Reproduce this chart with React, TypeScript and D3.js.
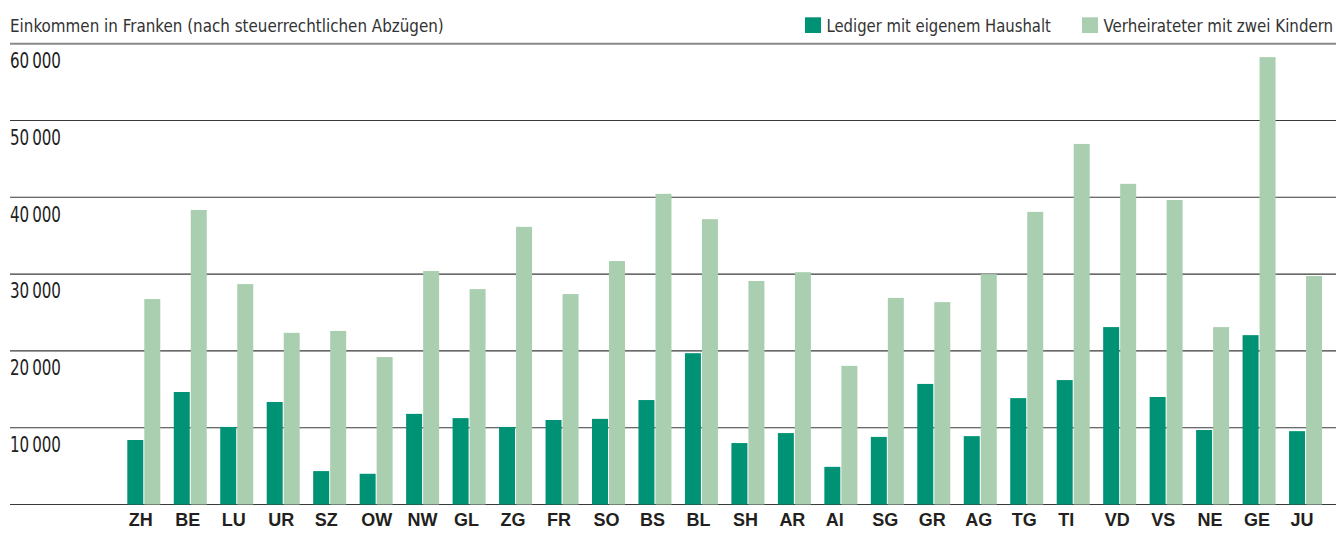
import React, { useEffect, useRef } from 'react';
import * as d3 from 'd3';

const cantons = ['ZH', 'BE', 'LU', 'UR', 'SZ', 'OW', 'NW', 'GL', 'ZG', 'FR', 'SO', 'BS', 'BL', 'SH', 'AR', 'AI', 'SG', 'GR', 'AG', 'TG', 'TI', 'VD', 'VS', 'NE', 'GE', 'JU'];
// Lediger mit eigenem Haushalt
const ledig = [8400, 14650, 10100, 13350, 4350, 4000, 11800, 11250, 10100, 11000, 11150, 13600, 19700, 8000, 9300, 4900, 8800, 15700, 8900, 13850, 16200, 23100, 14000, 9700, 22050, 9550];
// Verheirateter mit zwei Kindern
const verheiratet = [26750, 38350, 28700, 22350, 22600, 19200, 30400, 28050, 36150, 27400, 31700, 40450, 37150, 29100, 30250, 18050, 26900, 26350, 30000, 38100, 46950, 41750, 39650, 23100, 58250, 29750];
const seriesNames = ['Lediger mit eigenem Haushalt', 'Verheirateter mit zwei Kindern'];
const seriesColors = ['#009274', '#aacfb0'];
const yTicks = [0, 10000, 20000, 30000, 40000, 50000, 60000];

const FONT = '"DejaVu Sans Condensed", "Liberation Sans", sans-serif';

// schmale Schrift nachbilden: Text horizontal auf Zielbreite stauchen
const squeeze = (sel: any, x: number, y: number, target: number) => {
  sel.each(function (this: SVGTextElement) {
    const natural = this.getComputedTextLength();
    const sx = natural > 0 ? Math.min(1, target / natural) : 1;
    d3.select(this).attr('transform', `translate(${x},${y}) scale(${sx},1)`);
  });
};

const App = () => {
  const ref = useRef<SVGSVGElement>(null);

  useEffect(() => {
    document.body.style.margin = '0';
    const width = 1336;
    const height = 536;

    const svg = d3.select(ref.current);
    svg.selectAll('*').remove();
    svg.attr('width', width).attr('height', height);

    const y = d3.scaleLinear().domain([0, 60000]).range([504.5, 43.7]);

    const step = 46.47;
    const x0 = d3.scaleBand<string>()
      .domain(cantons)
      .range([127.3 - 0.145 * step, 127.3 - 0.145 * step + cantons.length * step])
      .paddingInner(0.29)
      .paddingOuter(0.145);

    const x1 = d3.scaleBand<number>()
      .domain([0, 1])
      .range([0, x0.bandwidth()])
      .paddingInner(0.06);

    const fmt = d3.formatLocale({ decimal: '.', thousands: '\u2009', grouping: [3], currency: ['', ''] }).format(',');

    // Titel
    const title = svg.append('text')
      .attr('font-family', FONT)
      .attr('font-size', 18)
      .attr('fill', '#333')
      .text('Einkommen in Franken (nach steuerrechtlichen Abzügen)');
    squeeze(title, 10, 32, 434);

    // Legende
    const legendX = [805, 1082];
    const legendLen = [224.5, 230];
    seriesNames.forEach((name, i) => {
      svg.append('rect')
        .attr('x', legendX[i])
        .attr('y', 17.3)
        .attr('width', 16)
        .attr('height', 15.7)
        .attr('fill', seriesColors[i]);
      const t = svg.append('text')
        .attr('font-family', FONT)
        .attr('font-size', 18.5)
        .attr('fill', '#333')
        .text(name);
      squeeze(t, legendX[i] + 21.5, 32.3, legendLen[i]);
    });

    // Gitterlinien
    svg.append('g')
      .selectAll('line')
      .data(yTicks)
      .enter()
      .append('line')
      .attr('x1', 10)
      .attr('x2', width)
      .attr('y1', d => y(d))
      .attr('y2', d => y(d))
      .attr('stroke', d => (d === 60000 ? '#8a8a8a' : '#3a3a3a'))
      .attr('stroke-width', d => (d === 60000 ? 2 : 1.1));

    const tickLabels = svg.append('g')
      .selectAll('text')
      .data(yTicks.filter(d => d > 0))
      .enter()
      .append('text')
      .attr('font-family', FONT)
      .attr('font-size', 22)
      .attr('fill', '#222')
      .text(d => fmt(d));
    tickLabels.each(function (this: SVGTextElement, d: number) {
      squeeze(d3.select(this), 10, y(d) + 24.3, 51);
    });

    // Balken
    const groups = svg.append('g')
      .selectAll('g')
      .data(cantons)
      .enter()
      .append('g')
      .attr('transform', d => `translate(${x0(d)},0)`);

    groups.selectAll('rect')
      .data((d, i) => [ledig[i], verheiratet[i]])
      .enter()
      .append('rect')
      .attr('x', (d, j) => x1(j) as number)
      .attr('width', x1.bandwidth())
      .attr('y', d => y(d))
      .attr('height', d => y(0) - y(d))
      .attr('fill', (d, j) => seriesColors[j]);

    // Kantonskürzel
    svg.append('g')
      .selectAll('text')
      .data(cantons)
      .enter()
      .append('text')
      .attr('x', d => (x0(d) as number) + 1.5)
      .attr('y', 526)
      .attr('font-family', '"Liberation Sans", Arial, sans-serif')
      .attr('font-weight', 'bold')
      .attr('font-size', 18)
      .attr('fill', '#231f20')
      .text(d => d);
  }, []);

  return (
    <div>
      <svg ref={ref}></svg>
    </div>
  );
};

export default App;
